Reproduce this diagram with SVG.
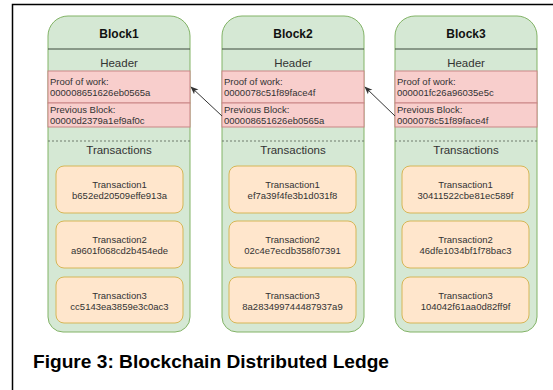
<svg xmlns="http://www.w3.org/2000/svg" width="553" height="390" viewBox="0 0 553 390">
  <style>
    .block { fill: #d5e8d4; stroke: #82b366; stroke-width: 1; }
    .sep { stroke: #3d4a3c; stroke-width: 1; }
    .hdr { fill: #f8cecc; stroke: #c98585; stroke-width: 1; }
    .dash { stroke: #6e7a6c; stroke-width: 1; stroke-dasharray: 2 2; }
    .tx { fill: #ffe6cc; stroke: #d6b656; stroke-width: 1; }
    .title { font-family: "Liberation Sans", Arial, sans-serif; font-size: 12px; font-weight: bold; fill: #111; text-anchor: middle; }
    .sec { font-family: "Liberation Sans", Arial, sans-serif; font-size: 11.5px; fill: #333; text-anchor: middle; }
    .small { font-family: "Liberation Sans", Arial, sans-serif; font-size: 9.5px; fill: #333; }
    .mid { text-anchor: middle; }
    .link { stroke: #333; stroke-width: 1; fill: none; }
    .frame { stroke: #000; stroke-width: 1.5; fill: none; }
    .caption { font-family: "Liberation Sans", Arial, sans-serif; font-size: 19px; font-weight: bold; fill: #000; }
  </style>
  <defs>
    <marker id="arrow" viewBox="0 0 10 10" refX="9" refY="5" markerWidth="8" markerHeight="8" orient="auto" markerUnits="userSpaceOnUse">
      <path d="M0,1 L10,5 L0,9 L2.5,5 Z" fill="#333"/>
    </marker>
    <path id="shell" d="M0,20 A20,20 0 0 1 20,0 H122 A20,20 0 0 1 142,20 V301 A15,15 0 0 1 127,316 H15 A15,15 0 0 1 0,301 Z"/>
  </defs>

  <rect width="553" height="390" fill="#fff"/>
  <!-- page frame: top and left rules -->
  <path class="frame" d="M12.5,390 V4.5 H553"/>

  <g id="block1" transform="translate(48,16)">
    <use href="#shell" class="block"/>
    <text class="title" x="71" y="21.5">Block1</text>
    <line class="sep" x1="0" y1="33" x2="142" y2="33"/>
    <text class="sec" x="71" y="51">Header</text>
    <rect class="hdr" x="0" y="55" width="142" height="32"/>
    <rect class="hdr" x="0" y="87" width="142" height="24"/>
    <text class="small" x="2" y="69">Proof of work:</text>
    <text class="small" x="2" y="80">000008651626eb0565a</text>
    <text class="small" x="2" y="97">Previous Block:</text>
    <text class="small" x="2" y="108">00000d2379a1ef9af0c</text>
    <line class="dash" x1="0" y1="125" x2="142" y2="125"/>
    <text class="sec" x="71" y="138">Transactions</text>
    <g id="b1-tx1">
      <rect class="tx" x="8" y="150" width="127" height="47" rx="8"/>
      <text class="small mid" x="71.5" y="172">Transaction1</text>
      <text class="small mid" x="71.5" y="183">b652ed20509effe913a</text>
    </g>
    <g id="b1-tx2">
      <rect class="tx" x="8" y="205" width="127" height="47" rx="8"/>
      <text class="small mid" x="71.5" y="227">Transaction2</text>
      <text class="small mid" x="71.5" y="238">a9601f068cd2b454ede</text>
    </g>
    <g id="b1-tx3">
      <rect class="tx" x="8" y="261" width="127" height="46" rx="8"/>
      <text class="small mid" x="71.5" y="283">Transaction3</text>
      <text class="small mid" x="71.5" y="294">cc5143ea3859e3c0ac3</text>
    </g>
  </g>

  <g id="block2" transform="translate(222,16)">
    <use href="#shell" class="block"/>
    <text class="title" x="71" y="21.5">Block2</text>
    <line class="sep" x1="0" y1="33" x2="142" y2="33"/>
    <text class="sec" x="71" y="51">Header</text>
    <rect class="hdr" x="0" y="55" width="142" height="32"/>
    <rect class="hdr" x="0" y="87" width="142" height="24"/>
    <text class="small" x="2" y="69">Proof of work:</text>
    <text class="small" x="2" y="80">0000078c51f89face4f</text>
    <text class="small" x="2" y="97">Previous Block:</text>
    <text class="small" x="2" y="108">000008651626eb0565a</text>
    <line class="dash" x1="0" y1="125" x2="142" y2="125"/>
    <text class="sec" x="71" y="138">Transactions</text>
    <g id="b2-tx1">
      <rect class="tx" x="7" y="150" width="127" height="47" rx="8"/>
      <text class="small mid" x="70.5" y="172">Transaction1</text>
      <text class="small mid" x="70.5" y="183">ef7a39f4fe3b1d031f8</text>
    </g>
    <g id="b2-tx2">
      <rect class="tx" x="7" y="205" width="127" height="47" rx="8"/>
      <text class="small mid" x="70.5" y="227">Transaction2</text>
      <text class="small mid" x="70.5" y="238">02c4e7ecdb358f07391</text>
    </g>
    <g id="b2-tx3">
      <rect class="tx" x="7" y="261" width="127" height="46" rx="8"/>
      <text class="small mid" x="70.5" y="283">Transaction3</text>
      <text class="small mid" x="70.5" y="294">8a283499744487937a9</text>
    </g>
  </g>

  <g id="block3" transform="translate(395,16)">
    <use href="#shell" class="block"/>
    <text class="title" x="71" y="21.5">Block3</text>
    <line class="sep" x1="0" y1="33" x2="142" y2="33"/>
    <text class="sec" x="71" y="51">Header</text>
    <rect class="hdr" x="0" y="55" width="142" height="32"/>
    <rect class="hdr" x="0" y="87" width="142" height="24"/>
    <text class="small" x="2" y="69">Proof of work:</text>
    <text class="small" x="2" y="80">000001fc26a96035e5c</text>
    <text class="small" x="2" y="97">Previous Block:</text>
    <text class="small" x="2" y="108">0000078c51f89face4f</text>
    <line class="dash" x1="0" y1="125" x2="142" y2="125"/>
    <text class="sec" x="71" y="138">Transactions</text>
    <g id="b3-tx1">
      <rect class="tx" x="7" y="150" width="127" height="47" rx="8"/>
      <text class="small mid" x="70.5" y="172">Transaction1</text>
      <text class="small mid" x="70.5" y="183">30411522cbe81ec589f</text>
    </g>
    <g id="b3-tx2">
      <rect class="tx" x="7" y="205" width="127" height="47" rx="8"/>
      <text class="small mid" x="70.5" y="227">Transaction2</text>
      <text class="small mid" x="70.5" y="238">46dfe1034bf1f78bac3</text>
    </g>
    <g id="b3-tx3">
      <rect class="tx" x="7" y="261" width="127" height="46" rx="8"/>
      <text class="small mid" x="70.5" y="283">Transaction3</text>
      <text class="small mid" x="70.5" y="294">104042f61aa0d82ff9f</text>
    </g>
  </g>

  <g id="connectors">
    <line class="link" x1="222" y1="116" x2="191" y2="87" marker-end="url(#arrow)"/>
    <line class="link" x1="395" y1="116" x2="365" y2="87" marker-end="url(#arrow)"/>
  </g>

  <text class="caption" x="33" y="368" textLength="356" lengthAdjust="spacingAndGlyphs">Figure 3: Blockchain Distributed Ledge</text>
</svg>
